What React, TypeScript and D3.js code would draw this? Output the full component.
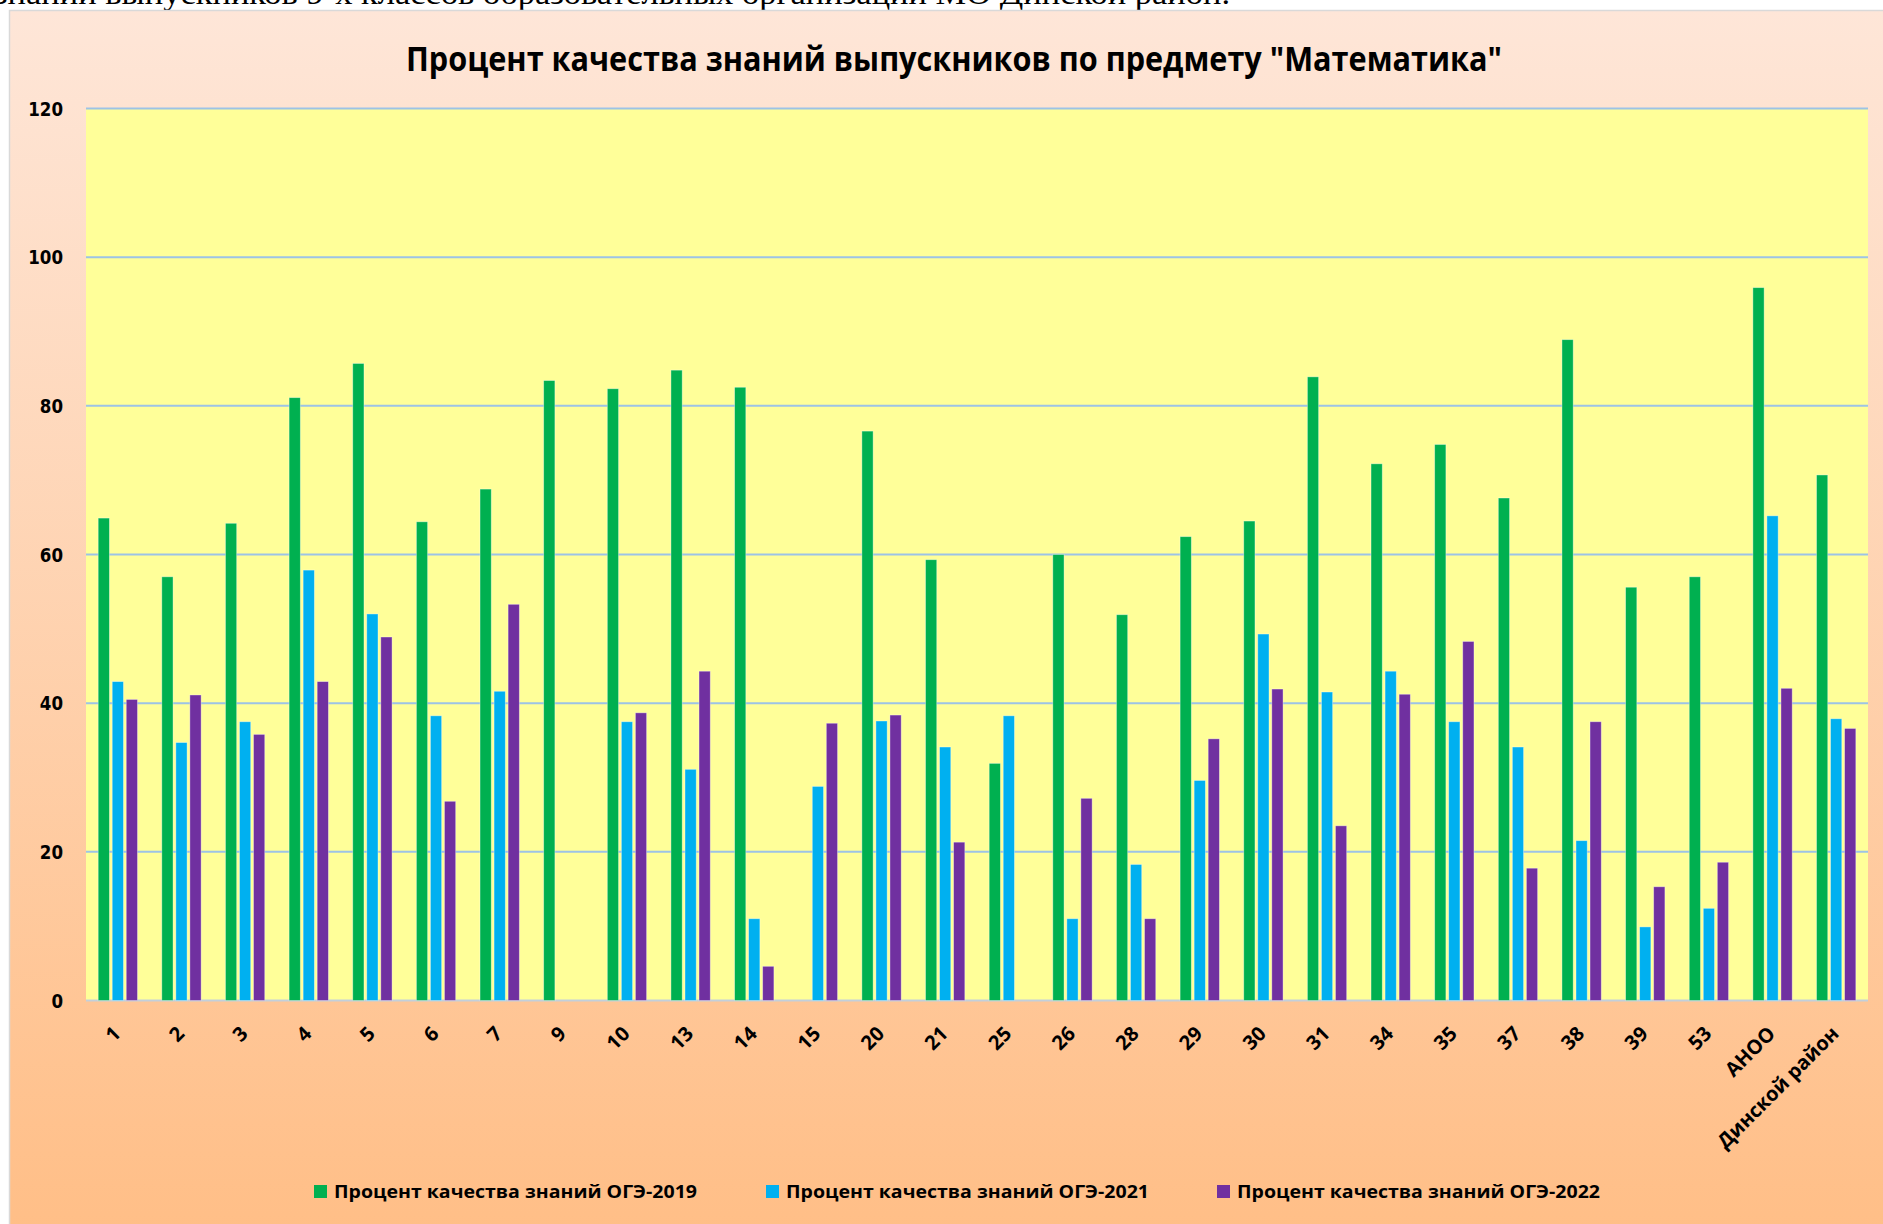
import React from 'react';
import * as d3 from 'd3';

const categories = ['1', '2', '3', '4', '5', '6', '7', '9', '10', '13', '14', '15', '20', '21', '25', '26', '28', '29', '30', '31', '34', '35', '37', '38', '39', '53', 'АНОО', 'Динской район'];

const oge2019 = [64.9, 57.0, 64.2, 81.1, 85.7, 64.4, 68.8, 83.4, 82.3, 84.8, 82.5, null, 76.6, 59.3, 31.9, 60.0, 51.9, 62.4, 64.5, 83.9, 72.2, 74.8, 67.6, 88.9, 55.6, 57.0, 95.9, 70.7];
const oge2021 = [42.9, 34.7, 37.5, 57.9, 52.0, 38.3, 41.6, null, 37.5, 31.1, 11.0, 28.8, 37.6, 34.1, 38.3, 11.0, 18.3, 29.6, 49.3, 41.5, 44.3, 37.5, 34.1, 21.5, 9.9, 12.4, 65.2, 37.9];
const oge2022 = [40.5, 41.1, 35.8, 42.9, 48.9, 26.8, 53.3, null, 38.7, 44.3, 4.6, 37.3, 38.4, 21.3, null, 27.2, 11.0, 35.2, 41.9, 23.5, 41.2, 48.3, 17.8, 37.5, 15.3, 18.6, 42.0, 36.6];

const seriesNames = ['Процент качества знаний ОГЭ-2019', 'Процент качества знаний ОГЭ-2021', 'Процент качества знаний ОГЭ-2022'];
const seriesColors = ['#00B050', '#00B0F0', '#7030A0'];
const yTicks = [0, 20, 40, 60, 80, 100, 120];

const title = 'Процент качества знаний выпускников по предмету  "Математика"';
const pageText = 'знаний выпускников 9-х классов образовательных организаций МО Динской район.';

const W = 1883;
const H = 1224;
const plot = { left: 86, right: 1868, top: 108.5, bottom: 1000.5 };
const boldFont = '"Open Sans", sans-serif';

const App = () => {
  const series = [oge2019, oge2021, oge2022];

  const x = d3.scaleBand<string>().domain(categories).range([plot.left, plot.right]).padding(0);
  const groupW = 39.3;
  const inner = d3.scaleBand<number>().domain([0, 1, 2]).range([0, groupW]).paddingInner(0.2);
  const y = d3.scaleLinear().domain([0, 120]).range([plot.bottom, plot.top]);

  const legendX = [314, 766, 1217];

  return (
    <div style={{ position: 'fixed', left: 0, top: 0, width: W, height: H, overflow: 'hidden', background: '#fff' }}>
      <svg width={W} height={H}>
        <defs>
          <linearGradient id="bg" x1="0" y1="0" x2="0" y2="1">
            <stop offset="0%" stopColor="#FEE6D8" />
            <stop offset="100%" stopColor="#FFBE86" />
          </linearGradient>
        </defs>

        {/* text of the page above the chart, cut by the top edge like in the scan */}
        <text x={-6} y={4} fontFamily='"Liberation Serif", serif' fontSize={32} textLength={1236} lengthAdjust="spacingAndGlyphs" fill="#000">
          {pageText}
        </text>

        {/* chart area */}
        <rect x={9.5} y={10.5} width={W + 10} height={H + 10} fill="url(#bg)" stroke="#D9D9D9" strokeWidth={1.5} />

        <text x={406} y={71} fontFamily={boldFont} fontWeight="bold" fontSize={34} textLength={1096} lengthAdjust="spacingAndGlyphs" fill="#000">
          {title}
        </text>

        {/* plot area */}
        <rect x={plot.left} y={plot.top} width={plot.right - plot.left} height={plot.bottom - plot.top} fill="#FFFF99" />

        {yTicks.map(t => (
          <g key={t}>
            <line x1={plot.left} x2={plot.right} y1={y(t)} y2={y(t)} stroke={t === 0 ? '#C3CFDA' : '#9DC3E6'} strokeWidth={2} />
            <text x={63} y={y(t)} dy="0.36em" textAnchor="end" fontFamily='"DejaVu Sans", sans-serif' fontWeight="bold" fontSize={19.5}
              textLength={String(t).length * 11.6} lengthAdjust="spacingAndGlyphs" fill="#000">
              {t}
            </text>
          </g>
        ))}

        {categories.map((c, i) => {
          const x0 = (x(c) as number) + (x.bandwidth() - groupW) / 2;
          return (
            <g key={c}>
              {series.map((s, k) => {
                const v = s[i];
                if (v == null) return null;
                return (
                  <rect key={k} x={x0 + (inner(k) as number)} y={y(v)} width={inner.bandwidth()} height={y(0) - y(v)}
                    fill={seriesColors[k]} stroke="rgba(255,255,255,0.45)" strokeWidth={0.8} />
                );
              })}
            </g>
          );
        })}

        {/* x labels */}
        {categories.map(c => {
          const cx = (x(c) as number) + x.bandwidth() / 2;
          return (
            <text key={c} transform={`translate(${cx + 4},${1035}) rotate(-45)`} textAnchor="end" fontFamily={boldFont} fontWeight="bold" fontSize={20} fill="#000">
              {c}
            </text>
          );
        })}

        {/* legend */}
        {seriesNames.map((n, k) => (
          <g key={n} transform={`translate(${legendX[k]},1185)`}>
            <rect x={0} y={0} width={13} height={13} fill={seriesColors[k]} />
            <text x={20} y={13} fontFamily={boldFont} fontWeight="bold" fontSize={18.5} textLength={363} lengthAdjust="spacingAndGlyphs" fill="#000">
              {n}
            </text>
          </g>
        ))}
      </svg>
    </div>
  );
};

export default App;
